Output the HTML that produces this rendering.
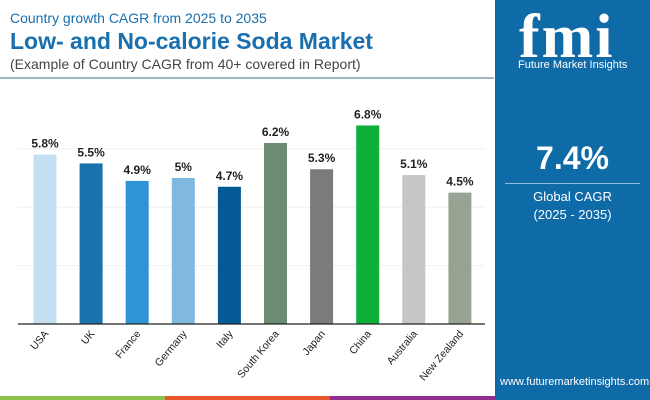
<!DOCTYPE html>
<html><head><meta charset="utf-8"><style>
body{margin:0;width:650px;height:400px;overflow:hidden;background:#fff;font-family:"Liberation Sans",sans-serif;position:relative}
.abs{position:absolute}
</style></head><body>
<div class="abs" style="left:10px;top:10px;font-size:14px;color:#1a6fae">Country growth CAGR from 2025 to 2035</div>
<div class="abs" style="left:10px;top:28px;font-size:23px;font-weight:bold;color:#1a6fae">Low- and No-calorie Soda Market</div>
<div class="abs" style="left:10px;top:56px;font-size:14px;color:#444">(Example of Country CAGR from 40+ covered in Report)</div>
<div class="abs" style="left:0;top:77px;width:494px;height:2px;background:#9cb7c8"></div>
<div class="abs" style="left:495px;top:0;width:155px;height:400px;background:#0f6aa8">
  <div class="abs" style="left:24px;top:2px;font-size:62px;font-weight:bold;color:#fff;font-family:'Liberation Serif',serif;letter-spacing:2px">fmi</div>
  <div class="abs" style="left:23px;top:59px;font-size:11px;color:#fff">Future Market Insights</div>
  <div class="abs" style="left:0;width:155px;text-align:center;top:140px;font-size:32px;font-weight:bold;color:#fff">7.4%</div>
  <div class="abs" style="left:10px;top:183px;width:135px;height:1px;background:#8fbfe0"></div>
  <div class="abs" style="left:0;width:155px;text-align:center;top:188px;font-size:13px;color:#fff;line-height:18px">Global CAGR<br>(2025 - 2035)</div>
  <div class="abs" style="left:5px;top:376px;font-size:11px;color:#fff">www.futuremarketinsights.com</div>
</div>
<div class="abs" style="left:0;top:396px;width:165px;height:4px;background:#8bc34a"></div>
<div class="abs" style="left:165px;top:396px;width:165px;height:4px;background:#e8572a"></div>
<div class="abs" style="left:330px;top:396px;width:165px;height:4px;background:#8e2f8c"></div>
<svg class="abs" style="left:0;top:0" width="494" height="400" id="chart"></svg>
<script>
const categories=["USA","UK","France","Germany","Italy","South Korea","Japan","China","Australia","New Zealand"];
const values=[5.8,5.5,4.9,5.0,4.7,6.2,5.3,6.8,5.1,4.5];
const labels=["5.8%","5.5%","4.9%","5%","4.7%","6.2%","5.3%","6.8%","5.1%","4.5%"];
const colors=["#c3dff1","#1b73ae","#2f94d6","#80b9e0","#045a94","#6b8b72","#7b7b7b","#0fb03a","#c6c6c6","#98a493"];
const svg=document.getElementById('chart');const NS="http://www.w3.org/2000/svg";
const y0=324,ppu=29.2;const yS=v=>y0-v*ppu;const xS=i=>45+i*46.1;
function mk(t,a){const e=document.createElementNS(NS,t);for(const k in a)e.setAttribute(k,a[k]);svg.appendChild(e);return e;}
[2,4,6].forEach(v=>{const g=mk('line',{x1:18,x2:485,y1:yS(v),y2:yS(v),stroke:'#f0f0f0','stroke-width':1});

});
categories.forEach((c,i)=>{
const r=mk('rect',{x:xS(i)-11.5,y:yS(values[i]),width:23,height:values[i]*ppu,fill:colors[i]});


const t=mk('text',{x:xS(i),y:yS(values[i])-7,'text-anchor':'middle','font-size':12,'font-weight':'bold',fill:'#222'});t.textContent=labels[i];


const l=mk('text',{x:xS(i)+4,y:334,'text-anchor':'end','font-size':10.5,fill:'#222',transform:`rotate(-50 ${xS(i)+4} 334)`});l.textContent=c;


});
const ax=mk('line',{x1:18,x2:485,y1:y0,y2:y0,stroke:'#222','stroke-width':1.3});


</script>
</body></html>
